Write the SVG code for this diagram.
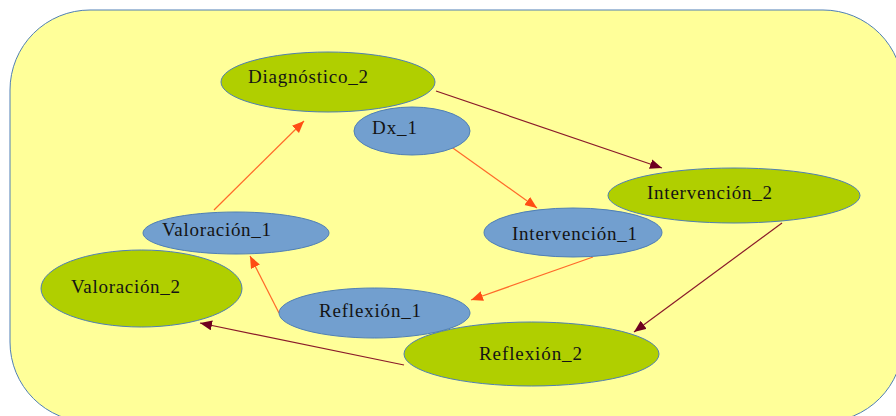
<svg xmlns="http://www.w3.org/2000/svg" width="896" height="416" viewBox="0 0 896 416">
<style>
.green{fill:#b0cf00;stroke:#4f7fb5;stroke-width:1}
.blue{fill:#729fcf;stroke:#4f7fb5;stroke-width:1}
text{font-family:"Liberation Serif","Times New Roman",serif;font-size:19px;fill:#141414}
.o{stroke:#ff6a2a;stroke-width:1.2;fill:none;marker-end:url(#ao)}
.d{stroke:#8a1a2a;stroke-width:1.2;fill:none;marker-end:url(#ad)}
</style>
<defs>
<marker id="ao" markerUnits="userSpaceOnUse" markerWidth="13" markerHeight="11" refX="12" refY="5" orient="auto"><path d="M0,0 L12,5 L0,10 z" fill="#ff4d14"/></marker>
<marker id="ad" markerUnits="userSpaceOnUse" markerWidth="13" markerHeight="11" refX="12" refY="5" orient="auto"><path d="M0,0 L12,5 L0,10 z" fill="#6e0020"/></marker>
</defs>
<rect x="10" y="10" width="893" height="412" rx="80" ry="80" fill="#ffff99" stroke="#4f7fb5" stroke-width="1"/>
<g id="connectors">
<line class="o" x1="214" y1="210" x2="304" y2="121"/>
<line class="o" x1="450" y1="146" x2="537" y2="208"/>
<line class="o" x1="593" y1="257" x2="471" y2="300"/>
<line class="o" x1="279" y1="313" x2="250" y2="256"/>
<line class="d" x1="436" y1="91" x2="662" y2="168"/>
<line class="d" x1="782" y1="223" x2="634" y2="332"/>
<line class="d" x1="404" y1="365" x2="200" y2="323"/>
</g>
<g id="diagnostico2"><ellipse class="green" cx="328" cy="82" rx="107" ry="30"/><text x="248" y="83" textLength="120" lengthAdjust="spacing">Diagnóstico_2</text></g>
<g id="dx1"><ellipse class="blue" cx="412" cy="131" rx="58" ry="24"/><text x="372" y="134" textLength="45" lengthAdjust="spacing">Dx_1</text></g>
<g id="intervencion2"><ellipse class="green" cx="734" cy="195.5" rx="126" ry="27.5"/><text x="647" y="199" textLength="125" lengthAdjust="spacing">Intervención_2</text></g>
<g id="intervencion1"><ellipse class="blue" cx="573" cy="232.5" rx="89" ry="24.5"/><text x="512" y="240" textLength="125" lengthAdjust="spacing">Intervención_1</text></g>
<g id="valoracion1"><ellipse class="blue" cx="236" cy="233" rx="93" ry="21"/><text x="162" y="236" textLength="109" lengthAdjust="spacing">Valoración_1</text></g>
<g id="valoracion2"><ellipse class="green" cx="141.5" cy="288.5" rx="100.5" ry="38.5"/><text x="71" y="293" textLength="109" lengthAdjust="spacing">Valoración_2</text></g>
<g id="reflexion1"><ellipse class="blue" cx="374.5" cy="313" rx="95.5" ry="25"/><text x="319" y="317" textLength="102" lengthAdjust="spacing">Reflexión_1</text></g>
<g id="reflexion2"><ellipse class="green" cx="531.5" cy="354" rx="127.5" ry="32"/><text x="479" y="360" textLength="103" lengthAdjust="spacing">Reflexión_2</text></g>
</svg>
